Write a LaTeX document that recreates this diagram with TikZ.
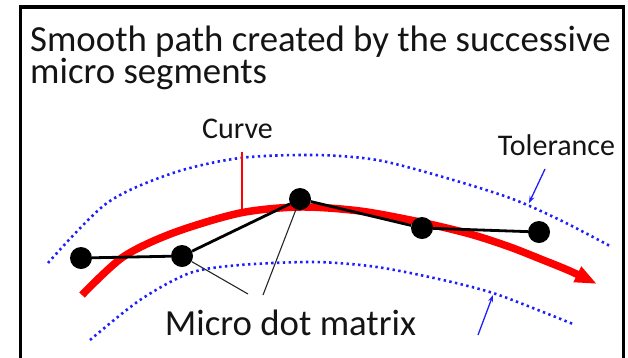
\documentclass[tikz,border=0pt]{standalone}
\usepackage{fontspec}
\setmainfont{Carlito}
\usetikzlibrary{arrows.meta}
\definecolor{tolblue}{RGB}{30,30,255}
\definecolor{curvered}{RGB}{255,0,0}
\definecolor{txt}{RGB}{20,20,20}
\tikzset{
  dotnode/.style={circle, fill=black, minimum size=22pt, inner sep=0pt},
  seg/.style={black, line width=2.8pt},
  leader/.style={black!85, line width=1.1pt},
  tolline/.style={tolblue, line width=2.6pt, dash pattern=on 2.4pt off 3.4pt},
  tolarrow/.style={tolblue, line width=1.3pt, -{Stealth[length=7pt,width=5pt]}},
  bigtext/.style={text=txt, inner sep=0pt, font=\fontsize{36.8}{31.6}\selectfont},
  labtext/.style={text=txt, inner sep=0pt, font=\fontsize{30}{34}\selectfont}
}
\begin{document}
\begin{tikzpicture}[x=1pt, y=-1pt]
\useasboundingbox (0,0) rectangle (628,357);
% frame
\draw[line width=3.6pt] (20.5,360) -- (20.5,7) -- (623.5,7) -- (623.5,360);
% title (base anchor = baseline of last line)
\node[bigtext, align=left, anchor=base west] (title) at (30,83.3) {Smooth path created by the successive\\micro segments};
% tolerance band
\draw[tolline] plot[smooth] coordinates {(48,263) (107,203) (173,173) (240,158) (315,155) (377,160) (443,177) (510,198) (560,220) (610,246)};
\draw[tolline] plot[smooth] coordinates {(90,340) (140,300) (190,273) (240,265) (315,262) (377,267) (443,280) (493,293) (543,312) (573,324)};
% red curve
\draw[curvered, line width=7.5pt, -{Triangle[length=22pt,width=16pt]}] plot[smooth] coordinates {(82,295) (123,257) (173,233) (240,213) (300,207) (360,211) (420,222) (470,234) (510,247) (543,260) (570,271) (597,284)};
\coordinate (ctop) at (242,152);
\coordinate (cbot) at (242,211);
\draw[curvered, line width=1.6pt] (ctop) -- (cbot);
\node[labtext, anchor=base] (curvelab) at (237.5,138) {Curve};
% labels
\node[labtext, anchor=base] (tollab) at (556.5,155) {Tolerance};
\coordinate (ta1) at (545,169);
\coordinate (ta2) at (529,203);
\coordinate (tb1) at (478,335);
\coordinate (tb2) at (493,295);
\draw[tolarrow] (ta1) -- (ta2);
\draw[tolarrow] (tb1) -- (tb2);
% dots
\node[dotnode] (d1) at (81,258) {};
\node[dotnode] (d2) at (182,256) {};
\node[dotnode] (d3) at (300,199) {};
\node[dotnode] (d4) at (422,228) {};
\node[dotnode] (d5) at (539,232) {};
\draw[seg] (d1) -- (d2) -- (d3) -- (d4) -- (d5);
% micro dot matrix label
\node[bigtext, anchor=base] (mdm) at (290.5,335) {Micro dot matrix};
\coordinate (l1) at (248,294);
\coordinate (l2) at (263,295);
\draw[leader] (d2) -- (l1);
\draw[leader] (d3) -- (l2);
\end{tikzpicture}
\end{document}
